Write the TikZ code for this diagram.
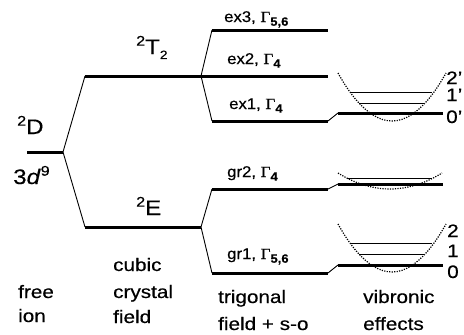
\documentclass[tikz,border=0pt]{standalone}
\usepackage{fontspec}
\setmainfont{Liberation Sans}[FakeStretch=1.15,FakeBold=0.4]
\newfontfamily\smallfont{Liberation Sans}[FakeStretch=1.08,FakeBold=0.4]
\newfontfamily\gfont{Liberation Serif}[FakeStretch=1.1,FakeBold=0.4]
\newcommand{\lowsub}[1]{\raisebox{-0.45ex}{\fontsize{12}{12}\selectfont\bfseries #1}}
\newcommand{\upsup}[1]{\raisebox{0.75ex}{\fontsize{14}{14}\selectfont #1}}
\begin{document}
\begin{tikzpicture}[x=1pt,y=-1pt,
  lvl/.style={line width=3pt},
  conn/.style={line width=0.9pt},
  vib/.style={line width=1pt},
  pot/.style={line width=1.2pt, dash pattern=on 1.2pt off 1.3pt},
  lab/.style={inner sep=0pt, anchor=base west, font=\fontsize{18}{20}\selectfont},
  big/.style={inner sep=0pt, anchor=base west, font=\fontsize{21}{23}\selectfont},
  slab/.style={inner sep=0pt, anchor=base west, font=\smallfont\fontsize{15.5}{17}\selectfont}]
\useasboundingbox (0,0) rectangle (464,335);
% free ion
\coordinate (Da) at (27,152); \coordinate (Db) at (63,152);
% cubic
\coordinate (Ta) at (85,76); \coordinate (Tb) at (201,76);
\coordinate (Ea) at (85,227); \coordinate (Eb) at (201,227);
% trigonal
\coordinate (x3a) at (212,30); \coordinate (x3b) at (328,30);
\coordinate (x2a) at (201,76); \coordinate (x2b) at (328,76);
\coordinate (x1a) at (212,121); \coordinate (x1b) at (328,121);
\coordinate (g2a) at (212,189); \coordinate (g2b) at (328,189);
\coordinate (g1a) at (212,273); \coordinate (g1b) at (328,273);
% vibronic
\coordinate (v1a) at (338,113); \coordinate (v1b) at (443,113);
\coordinate (v2a) at (338,184); \coordinate (v2b) at (443,184);
\coordinate (v3a) at (338,265); \coordinate (v3b) at (443,265);

\draw[lvl] (Da) -- (Db);
\draw[lvl] (Ta) -- (Tb);
\draw[lvl] (Ea) -- (Eb);
\draw[lvl] (x3a) -- (x3b);
\draw[lvl] (x2a) -- (x2b);
\draw[lvl] (x1a) -- (x1b);
\draw[lvl] (g2a) -- (g2b);
\draw[lvl] (g1a) -- (g1b);
\draw[lvl] (v1a) -- (v1b);
\draw[lvl] (v2a) -- (v2b);
\draw[lvl] (v3a) -- (v3b);

\draw[conn] (Ta) -- (Db) -- (Ea);
\draw[conn] (x3a) -- (Tb) -- (x1a);
\draw[conn] (g2a) -- (Eb) -- (g1a);
\draw[conn] (x1b) -- (v1a);
\draw[conn] (g2b) -- (v2a);
\draw[conn] (g1b) -- (v3a);

% vibronic sublevels
\coordinate (e2a) at (351,92); \coordinate (e2b) at (432,92);
\coordinate (e1a) at (359,103); \coordinate (e1b) at (424,103);
\draw[vib] (e2a) -- (e2b);
\draw[vib] (e1a) -- (e1b);
\coordinate (h1a) at (347,178); \coordinate (h1b) at (432,178);
\draw[vib] (h1a) -- (h1b);
\coordinate (f2a) at (351,243); \coordinate (f2b) at (432,243);
\coordinate (f1a) at (359,254); \coordinate (f1b) at (424,254);
\draw[vib] (f2a) -- (f2b);
\draw[vib] (f1a) -- (f1b);

% potentials
\coordinate (pe) at (392,121);
\coordinate (pg) at (390,189);
\coordinate (pf) at (392,272);
\draw[pot] (338,73) parabola bend (pe) (446,73);
\draw[pot] (338,173) parabola bend (pg) (442,173);
\draw[pot] (338,224) parabola bend (pf) (446,224);

% labels
\node[big] (lD) at (17,134) {\upsup{2}D};
\node[big] (lconf) at (13,184) {3\textit{d}\upsup{9}};
\node[big] (lT) at (136,54) {\upsup{2}T\lowsub{\mdseries 2}};
\node[big] (lE) at (136,215) {\upsup{2}E};

\node[slab] (l3) at (224,22) {ex3, {\gfont Γ}\lowsub{5,6}};
\node[slab] (l2) at (227,64) {ex2, {\gfont Γ}\lowsub{4}};
\node[slab] (l1) at (229,109) {ex1, {\gfont Γ}\lowsub{4}};
\node[slab] (lg2) at (227,177) {gr2, {\gfont Γ}\lowsub{4}};
\node[slab] (lg1) at (227,259) {gr1, {\gfont Γ}\lowsub{5,6}};

\node[lab] (n2p) at (446,84) {2'};
\node[lab] (n1p) at (446,101) {1'};
\node[lab] (n0p) at (446,123) {0'};
\node[lab] (n2) at (447,237) {2};
\node[lab] (n1) at (447,257) {1};
\node[lab] (n0) at (447,278) {0};

\node[lab] (b1) at (18,298) {free};
\node[lab] (b2) at (18,322) {ion};
\node[lab] (b3) at (113,271) {cubic};
\node[lab] (b4) at (113,298) {crystal};
\node[lab] (b5) at (113,323) {field};
\node[lab] (b6) at (218,303) {trigonal};
\node[lab] (b7) at (218,330) {field + s-o};
\node[lab] (b8) at (363,303) {vibronic};
\node[lab] (b9) at (363,330) {effects};
\end{tikzpicture}
\end{document}
